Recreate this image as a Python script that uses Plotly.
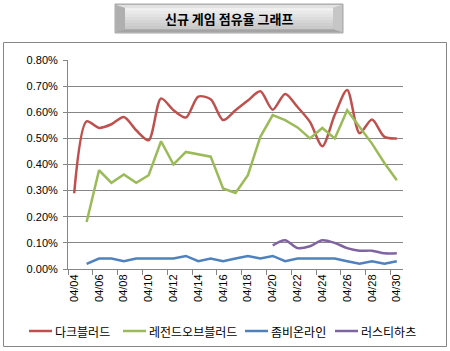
import plotly.graph_objects as go

dates = ["04/%02d" % d for d in range(4, 31)]

dark_blood = [0.29, 0.565, 0.54, 0.554, 0.582, 0.531, 0.493, 0.653, 0.608, 0.58,
              0.66, 0.65, 0.57, 0.608, 0.645, 0.68, 0.61, 0.67, 0.62, 0.563,
              0.47, 0.59, 0.685, 0.52, 0.572, 0.506, 0.50]
legend_of_blood = [None, 0.18, 0.378, 0.33, 0.362, 0.33, 0.359, 0.489, 0.40, 0.448,
                   0.44, 0.43, 0.308, 0.291, 0.359, 0.506, 0.589, 0.57, 0.542, 0.50,
                   0.54, 0.50, 0.608, 0.542, 0.48, 0.406, 0.34]
zombie_online = [None, 0.02, 0.04, 0.04, 0.03, 0.04, 0.04, 0.04, 0.04, 0.05,
                 0.03, 0.04, 0.03, 0.04, 0.05, 0.04, 0.05, 0.03, 0.04, 0.04,
                 0.04, 0.04, 0.03, 0.02, 0.03, 0.02, 0.03]
rusty_hearts = [None] * 16 + [0.09, 0.11, 0.08, 0.087, 0.11, 0.10, 0.08, 0.07, 0.07, 0.06, 0.06]

series_names = ["다크블러드", "레전드오브블러드", "좀비온라인", "러스티하츠"]
series_values = [dark_blood, legend_of_blood, zombie_online, rusty_hearts]
series_colors = ["#C0504D", "#9BBB59", "#4F81BD", "#8064A2"]
series_shapes = ["spline", "linear", "linear", "spline"]
title_text = "신규 게임 점유율 그래프"

W, H = 450, 351
L, R, T, B = 68, 403, 60, 269
PW, PH = R - L, B - T


def px(x):
    return (x - L) / PW


def py(y):
    return (B - y) / PH


fig = go.Figure()
for name, vals, color, shape in zip(series_names, series_values, series_colors, series_shapes):
    fig.add_trace(go.Scatter(
        x=dates, y=[None if v is None else v / 100 for v in vals],
        name=name, mode="lines", showlegend=False,
        line=dict(color=color, width=2.5, shape=shape, smoothing=0.8),
        connectgaps=False,
    ))

shapes = []
annotations = []
# outer chart border
shapes.append(dict(type="rect", xref="paper", yref="paper",
                   x0=px(3.5), x1=px(446.5), y0=py(42.5), y1=py(346.5),
                   line=dict(color="#868686", width=1), fillcolor="rgba(0,0,0,0)", layer="below"))
# title box body
shapes.append(dict(type="rect", xref="paper", yref="paper",
                   x0=px(115), x1=px(343), y0=py(4), y1=py(33),
                   line=dict(color="#a8a8a8", width=1), fillcolor="#bababa"))


def quad(pts, color):
    p = "M " + " L ".join("%f,%f" % (px(a), py(b)) for a, b in pts) + " Z"
    return dict(type="path", xref="paper", yref="paper", path=p,
                line=dict(width=0), fillcolor=color)


shapes.append(quad([(116, 5), (342, 5), (333, 8), (125, 8)], "#e2e2e2"))
shapes.append(quad([(116, 32), (342, 32), (333, 29), (125, 29)], "#a4a4a4"))
shapes.append(quad([(342, 5), (342, 32), (333, 29), (333, 8)], "#c6c6c6"))
shapes.append(quad([(116, 5), (116, 32), (125, 29), (125, 8)], "#afafaf"))
bands = ["#efefef", "#e9e9e9", "#e3e3e3", "#dcdcdc", "#d5d5d5", "#cfcfcf", "#c9c9c9"]
step = (29 - 8) / len(bands)
for i, c in enumerate(bands):
    shapes.append(dict(type="rect", xref="paper", yref="paper",
                       x0=px(125), x1=px(333), y0=py(8 + i * step), y1=py(8 + (i + 1) * step + 0.3),
                       line=dict(width=0), fillcolor=c))
annotations.append(dict(text="<b>%s</b>" % title_text, xref="paper", yref="paper",
                        x=px(229), y=py(19), xanchor="center", yanchor="middle", showarrow=False,
                        font=dict(family="Noto Sans CJK KR", size=13, color="#000000")))

# legend (drawn manually to keep the compact spacing of the original)
legend_x = [29, 123, 245, 335]
for name, color, lx in zip(series_names, series_colors, legend_x):
    shapes.append(dict(type="line", xref="paper", yref="paper",
                       x0=px(lx), x1=px(lx + 23), y0=py(331), y1=py(331),
                       line=dict(color=color, width=2.5)))
    annotations.append(dict(text=name, xref="paper", yref="paper",
                            x=px(lx + 24), y=py(331), xanchor="left", yanchor="middle",
                            showarrow=False,
                            font=dict(family="Noto Sans CJK KR", size=12, color="#000000")))

fig.update_layout(
    width=W, height=H,
    margin=dict(l=L, r=W - R, t=T, b=H - B, autoexpand=False),
    paper_bgcolor="white", plot_bgcolor="white",
    font=dict(family="Liberation Sans, Noto Sans CJK KR", size=11, color="#000000"),
    shapes=shapes, annotations=annotations,
    showlegend=False,
    xaxis=dict(type="category", range=[-0.5, 26.5], tickmode="linear", tick0=0, dtick=2,
               tickson="boundaries", ticks="outside", ticklen=5, tickcolor="#868686",
               showgrid=False, showline=True, linecolor="#868686", linewidth=1,
               tickangle=-90, tickfont=dict(family="Liberation Sans", size=11),
               automargin=False, fixedrange=True),
    yaxis=dict(range=[0, 0.008], dtick=0.001, tickformat=".2%", showgrid=True,
               gridcolor="#868686", gridwidth=1, showline=True, linecolor="#868686",
               ticks="outside", ticklen=4, tickcolor="#868686", zeroline=False,
               ticklabelstandoff=3,
               tickfont=dict(family="Liberation Sans", size=11),
               automargin=False, fixedrange=True),
)

fig.write_html("out.html")
